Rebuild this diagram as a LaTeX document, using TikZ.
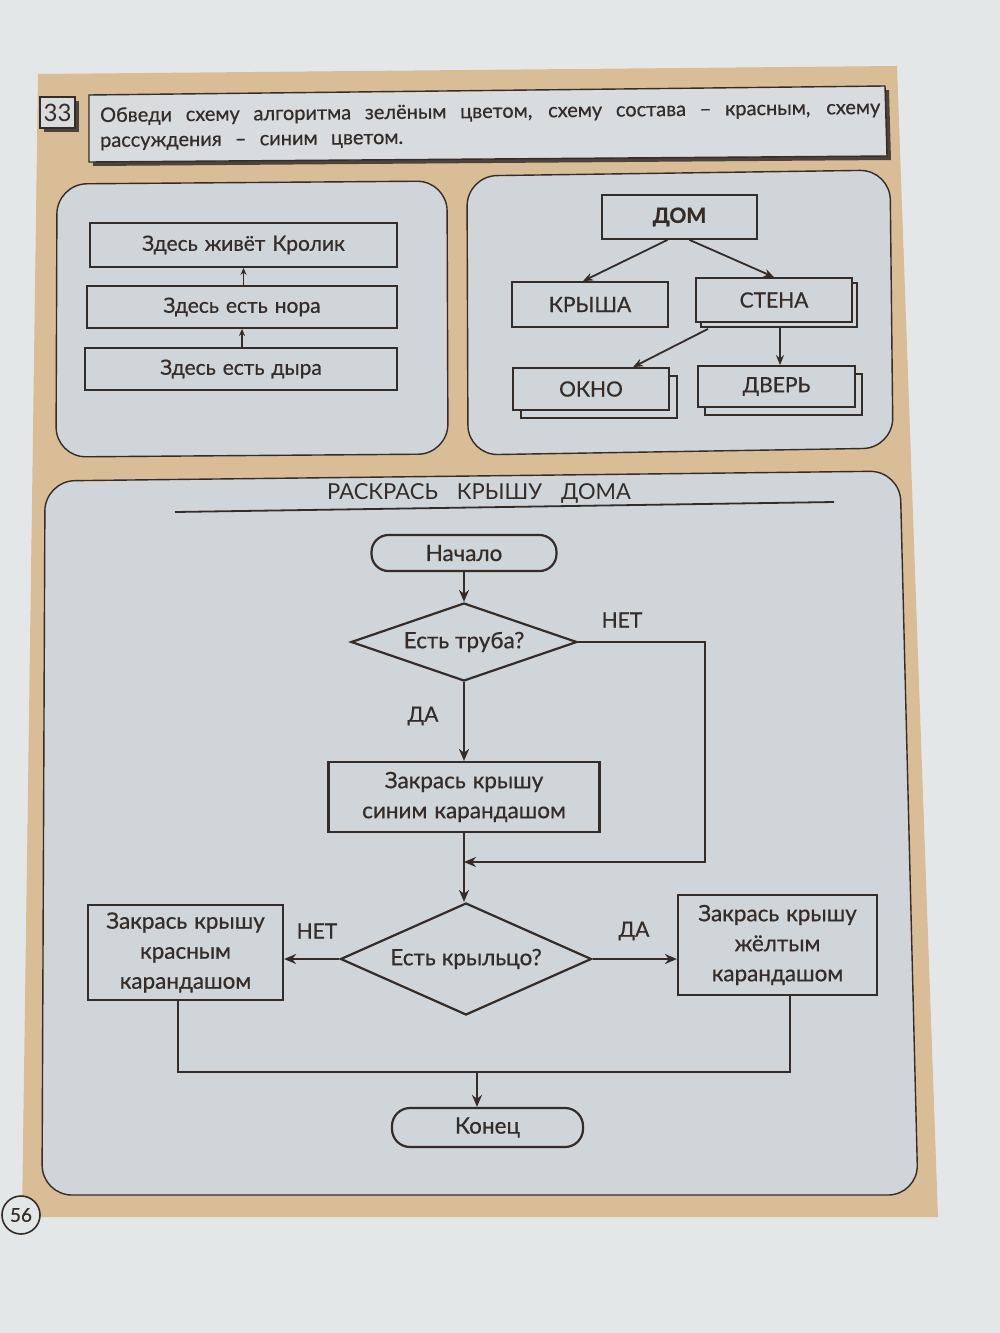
\documentclass[tikz,border=0pt]{standalone}
\usepackage{fontspec}
\setmainfont{Lato}[FakeBold=0.6]
\newfontfamily\thinfont{Lato}
\usetikzlibrary{shapes.geometric,arrows.meta,shadows}
\definecolor{pagebg}{HTML}{E4E7E8}
\definecolor{tanc}{HTML}{D8BD96}
\definecolor{panel}{HTML}{CFD5D9}
\definecolor{hdr}{HTML}{D8DCDF}
\definecolor{ink}{HTML}{352C28}
\definecolor{shd}{HTML}{4E433C}
\newcommand\fsA{\fontsize{21}{25}\selectfont}
\newcommand\fsB{\fontsize{22.5}{30}\selectfont}
\newcommand\fsH{\fontsize{20}{24}\selectfont}
\begin{document}
\begin{tikzpicture}[x=1pt,y=-1pt,
 bx/.style={draw=ink, line width=1.8pt, fill=panel, rectangle, inner sep=2pt, font=\fsA, text=ink},
 fbx/.style={draw=ink, line width=2.2pt, fill=panel, rectangle, inner sep=2pt, font=\fsB, text=ink, align=center},
 dia/.style={draw=ink, line width=2.2pt, fill=panel, diamond, aspect=2.5, inner sep=0pt, font=\fsB, text=ink},
 arr/.style={draw=ink, line width=1.8pt, -{Stealth[length=10pt,width=8pt]}},
 sarr/.style={draw=ink, line width=1.6pt, -{Stealth[length=7pt,width=6pt]}},
 farr/.style={draw=ink, line width=2.4pt, -{Stealth[length=12pt,width=10pt]}},
 fln/.style={draw=ink, line width=2.4pt},
 lbl/.style={font=\fsA, text=ink, inner sep=1pt},
 pnl/.style={draw=ink, line width=1.4pt, fill=panel, rounded corners=30pt}]
\useasboundingbox (0,0) rectangle (1000,1333);
\fill[pagebg] (0,0) rectangle (1000,1333);
\fill[tanc] (38,74) -- (897,66) -- (938,1217) -- (22,1217) -- cycle;

% header
\fill[shd] (93,99) -- (889,90) -- (891,160) -- (93,166) -- cycle;
\filldraw[fill=hdr, draw=ink, line width=1.4pt] (89,95) -- (885,86) -- (887,156) -- (89,162) -- cycle;
\fill[shd] (44,101) rectangle (79,132);
\filldraw[fill=hdr, draw=ink, line width=1.4pt] (40,97) rectangle (75,128);
\node[font=\thinfont\fontsize{24}{24}\selectfont, text=ink, inner sep=0] (num) at (57.5,112.5) {33};
\node[anchor=base west, font=\fsH, text=ink, inner sep=0, rotate=0.6] (t1) at (100,122)
  {\makebox[780pt][s]{Обведи схему алгоритма зелёным цветом, схему состава – красным, схему}};
\node[anchor=base west, font=\fsH, text=ink, inner sep=0, rotate=0.6] (t2) at (100,147)
  {\makebox[303pt][s]{рассуждения – синим цветом.}};

% panels
\draw[pnl] (57,184) -- (447,181) -- (448,454) -- (56,457) -- cycle;
\draw[pnl] (467,176) -- (890,170) -- (893,448) -- (468,455) -- cycle;
\draw[pnl] (45,481) -- (900,471) -- (918,1195) -- (42,1195) -- cycle;

% left panel
\node[bx, minimum width=307pt, minimum height=44pt] (kr) at (243.5,245) {Здесь\hspace{7pt}живёт\hspace{7pt}Кролик};
\node[bx, minimum width=310pt, minimum height=42pt] (nr) at (242,307) {Здесь\hspace{7pt}есть\hspace{7pt}нора};
\node[bx, minimum width=312pt, minimum height=42pt] (dy) at (241,369) {Здесь\hspace{7pt}есть\hspace{7pt}дыра};
\draw[sarr] (dy.north -| nr.south) -- (nr.south);
\draw[sarr] (nr.north -| kr.south) -- (kr.south);

% right panel
\node[bx, minimum width=155pt, minimum height=44pt, font=\fsA\bfseries] (dom) at (679.5,217) {ДОМ};
\node[bx, minimum width=156pt, minimum height=45pt] (roof) at (590,304.5) {КРЫША};
\node[bx, minimum width=156pt, minimum height=44pt, copy shadow={shadow xshift=5pt, shadow yshift=-5pt}] (wall) at (774,300) {СТЕНА};
\node[bx, minimum width=156pt, minimum height=42pt, copy shadow={shadow xshift=8pt, shadow yshift=-8pt}] (win) at (591,389) {ОКНО};
\node[bx, minimum width=157pt, minimum height=41pt, copy shadow={shadow xshift=7pt, shadow yshift=-8pt}] (door) at (776.5,386.5) {ДВЕРЬ};
\draw[arr] ([xshift=-12pt]dom.south) -- ([xshift=-7pt]roof.north);
\draw[arr] ([xshift=10pt]dom.south) -- (wall.north);
\draw[arr] ([xshift=-66pt,yshift=-6pt]wall.south) -- ([xshift=42pt]win.north);
\draw[arr] ([xshift=6pt,yshift=-5pt]wall.south) -- ([xshift=3.5pt]door.north);

% bottom panel
\node[font=\thinfont\fontsize{22}{22}\selectfont, text=ink, inner sep=0] (title) at (479,493) {РАСКРАСЬ\hspace{19pt}КРЫШУ\hspace{19pt}ДОМА};
\draw[ink, line width=1.8pt] (175,512) -- (834,502);

\node[fbx, rounded corners=17pt, minimum width=185pt, minimum height=36pt] (start) at (464,553) {Начало};
\node[dia, minimum width=226pt, minimum height=78pt] (d1) at (464,642) {Есть\hspace{6pt}труба?};
\node[fbx, minimum width=271pt, minimum height=70pt] (b1) at (464,797) {Закрась\hspace{7pt}крышу\\синим\hspace{7pt}карандашом};
\node[dia, minimum width=251pt, minimum height=112pt] (d2) at (466,959) {Есть\hspace{6pt}крыльцо?};
\node[fbx, minimum width=195pt, minimum height=95pt] (bl) at (185.5,952.5) {Закрась\hspace{7pt}крышу\\красным\\карандашом};
\node[fbx, minimum width=199pt, minimum height=100pt] (br) at (777.5,945) {Закрась\hspace{7pt}крышу\\жёлтым\\карандашом};
\node[fbx, rounded corners=18pt, minimum width=191pt, minimum height=39pt] (endn) at (487.5,1127.5) {Конец};

\node[lbl] (no1) at (622,620) {НЕТ};
\node[lbl] (yes1) at (423,716) {ДА};
\node[lbl] (no2) at (317,931) {НЕТ};
\node[lbl] (yes2) at (634,931) {ДА};

\coordinate (c1) at (705,862);
\coordinate (j1) at (464,862);
\coordinate (m) at (477,1072);

\draw[farr] (start.south -| d1.north) -- (d1.north);
\draw[farr] (d1.south) -- (b1.north);
\draw[farr] (d1.east) -| (c1) -- (j1);
\draw[farr] (b1.south) -- (b1.south |- d2.north);
\draw[farr] (d2.west) -- (d2.west -| bl.east);
\draw[farr] (d2.east) -- (d2.east -| br.west);
\draw[fln] ([xshift=-7.5pt]bl.south) |- (m) -| ([xshift=12.5pt]br.south);
\draw[farr] (m) -- (m |- endn.north);

% page number
\node[circle, draw=ink, line width=1.6pt, fill=pagebg, minimum size=38pt, inner sep=0pt, font=\fontsize{19}{19}\selectfont, text=ink] (pg) at (21,1215) {56};
\end{tikzpicture}
\end{document}
